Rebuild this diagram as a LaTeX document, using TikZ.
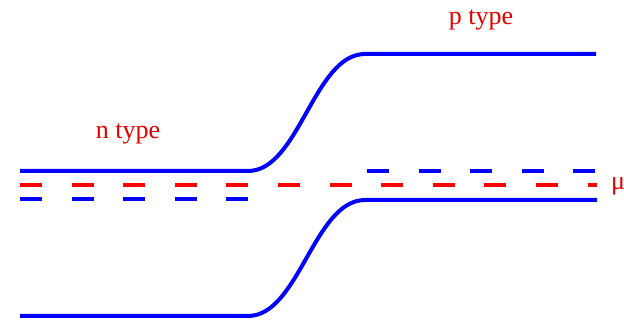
\documentclass[tikz,border=0pt]{standalone}
\usepackage{fontspec}
\setmainfont{Liberation Serif}
\usepackage{tikz}
\usepackage{xcolor}

\begin{document}
\begin{tikzpicture}[x=1pt,y=-1pt,
  band/.style={blue,line width=4pt},
  level/.style={blue,line width=4.3pt,dash pattern=on 22pt off 29.6pt},
  fermi/.style={red,line width=4.5pt,dash pattern=on 22pt off 29.6pt},
  lbl/.style={text=red!90!black,font=\fontsize{26}{30}\selectfont,inner sep=0pt}]
\useasboundingbox (0,0) rectangle (624,320);
% conduction band
\draw[band] (20,171) -- (248,171) .. controls (299,171) and (314,54) .. (365,54) -- (596,54);
% valence band
\draw[band] (20,316) -- (248,316) .. controls (299,316) and (314,200) .. (365,200) -- (597,200);
% impurity levels
\draw[level] (20,199) -- (248,199);
\draw[level] (367,171) -- (597,171);
% chemical potential
\draw[fermi] (20,185) -- (597,185);
\node[lbl,anchor=base] (ntype) at (128,139) {n type};
\node[lbl,anchor=base] (ptype) at (481,25) {p type};
\node[lbl,anchor=base west] (mu) at (611,190) {μ};
\end{tikzpicture}
\end{document}
